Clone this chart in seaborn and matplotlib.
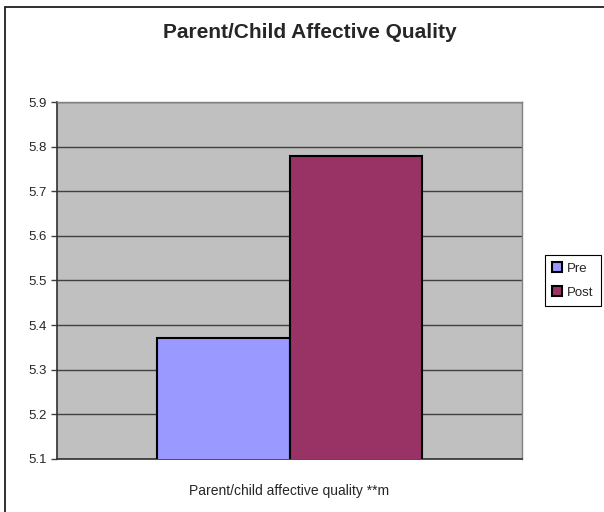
import matplotlib
matplotlib.use("Agg")
import matplotlib.pyplot as plt
import matplotlib.patches as mpatches
import seaborn as sns
import pandas as pd

categories = ["Parent/child affective quality **m"]
series = ["Pre", "Post"]
pre_values = [5.37]
post_values = [5.78]
y_ticks = [5.1, 5.2, 5.3, 5.4, 5.5, 5.6, 5.7, 5.8, 5.9]
colors = ["#9999FF", "#993366"]

df = pd.DataFrame({
    "category": categories * 2,
    "series": ["Pre"] * len(categories) + ["Post"] * len(categories),
    "value": pre_values + post_values,
})

sns.set_theme(style="white")
plt.rcParams["font.family"] = ["Liberation Sans", "DejaVu Sans"]

fig = plt.figure(figsize=(6.04, 5.12), dpi=100)
ax = fig.add_axes([57 / 604, 1 - 458.7 / 512, (522 - 57) / 604, (458.7 - 102.3) / 512])
ax.set_facecolor("#C0C0C0")

sns.barplot(data=df, x="category", y="value", hue="series", hue_order=series,
            palette=colors, saturation=1, width=0.572, edgecolor="black",
            linewidth=1.5, ax=ax, zorder=3)

ax.set_ylim(5.1, 5.9)
ax.set_xlim(-0.5, 0.5)
ax.set_yticks(y_ticks)
ax.set_yticklabels([f"{t:.1f}" for t in y_ticks], fontsize=9.5)
ax.grid(axis="y", color="#404040", linewidth=1, zorder=1)
ax.set_axisbelow(True)
ax.tick_params(axis="y", which="both", left=True, length=4, width=1, color="#404040", pad=3)
ax.tick_params(axis="x", bottom=False, labelsize=10, pad=12)
ax.set_xlabel("")
ax.set_ylabel("")

for side in ["left", "bottom"]:
    ax.spines[side].set_color("#303030")
    ax.spines[side].set_linewidth(1.2)
for side in ["top", "right"]:
    ax.spines[side].set_color("#808080")
    ax.spines[side].set_linewidth(1)

fig.suptitle("Parent/Child Affective Quality", x=310 / 604, y=1 - 33 / 512,
             va="center", ha="center", fontsize=15, fontweight="bold")

handles, labels = ax.get_legend_handles_labels()
ax.legend(handles, labels, loc="center", bbox_to_anchor=(573 / 604, 1 - 280.5 / 512),
          bbox_transform=fig.transFigure, fontsize=9.5, frameon=True, fancybox=False,
          edgecolor="black", framealpha=1, handlelength=0.7, handleheight=0.7,
          handletextpad=0.4, labelspacing=0.9, borderpad=0.55, borderaxespad=0)
ax.get_legend().get_frame().set_linewidth(0.8)

border = mpatches.Rectangle((4.5 / 604, -0.1), 1.2, 1 - 6.5 / 512 + 0.1,
                            transform=fig.transFigure, fill=False,
                            edgecolor="#202020", linewidth=1.3, clip_on=False)
fig.patches.append(border)

fig.savefig("out.png", dpi=100, facecolor="white")
